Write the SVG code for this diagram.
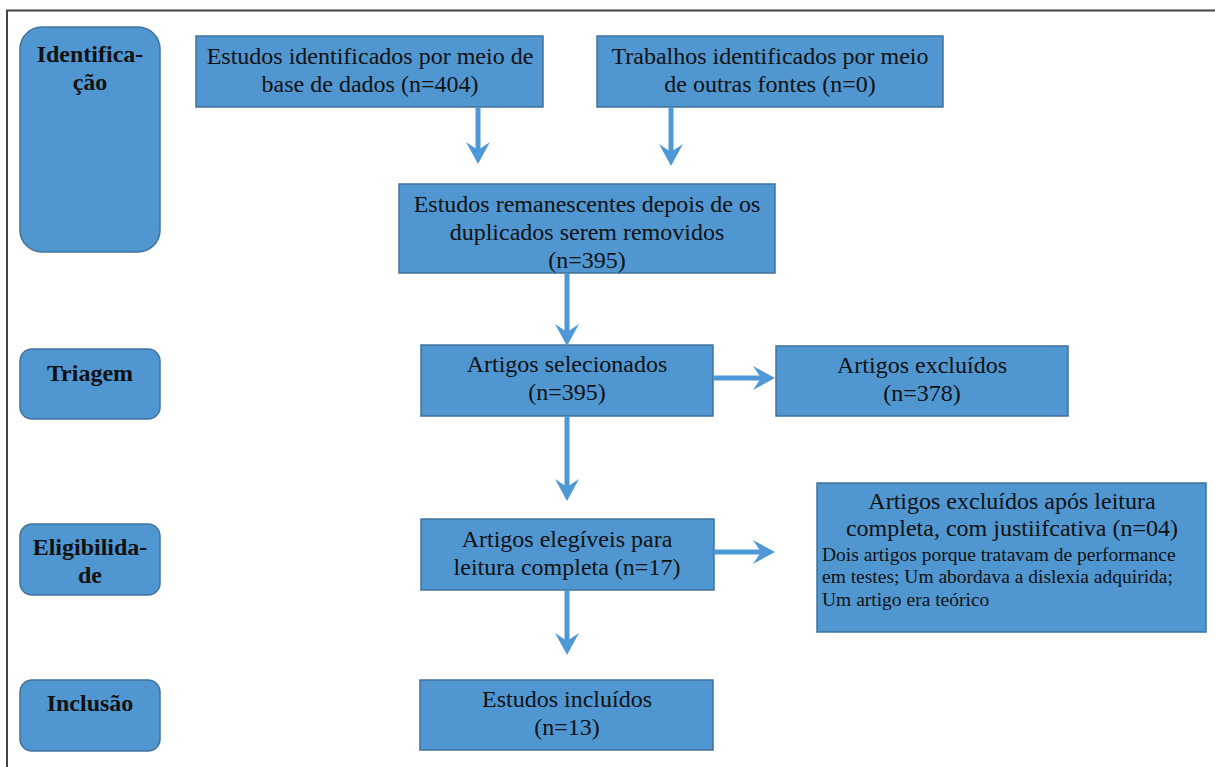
<svg xmlns="http://www.w3.org/2000/svg" width="1215" height="767" viewBox="0 0 1215 767">
<style>
.box{fill:#5097d2;stroke:#41719c;stroke-width:1.5}
.lbl{fill:#5097d2;stroke:#41719c;stroke-width:1.5}
.t{font-size:24px;fill:#111;text-anchor:middle}
.b{font-size:24px;font-weight:bold;fill:#111;text-anchor:middle}
.s{font-size:19.5px;fill:#111}
.c{stroke:#4f98d8;stroke-width:5;fill:none}
.h{fill:#4f98d8}
</style>
<defs>
<path id="ad" d="M0 0 L-12 -22 L0 -14 L12 -22 Z"/>
</defs>
<rect width="1215" height="767" fill="#fff"/>
<path d="M7 767 V10.5 H1215" fill="none" stroke="#444" stroke-width="2"/>
<g font-family="Liberation Serif, Times New Roman, serif">
<g id="lbl-identificacao"><rect class="lbl" x="20" y="27" width="140" height="225" rx="22"/><text class="b" x="90" y="62">Identifica-</text><text class="b" x="90" y="90">ção</text></g>
<g id="lbl-triagem"><rect class="lbl" x="20" y="349" width="140" height="70" rx="12"/><text class="b" x="90" y="381">Triagem</text></g>
<g id="lbl-eleg"><rect class="lbl" x="20" y="524" width="140" height="71" rx="12"/><text class="b" x="90" y="555">Eligibilida-</text><text class="b" x="90" y="583">de</text></g>
<g id="lbl-inclusao"><rect class="lbl" x="20" y="680" width="140" height="71" rx="12"/><text class="b" x="90" y="711">Inclusão</text></g>
<g id="n1"><rect class="box" x="196" y="36" width="347" height="71"/><text class="t" x="370" y="64">Estudos identificados por meio de</text><text class="t" x="370" y="92">base de dados (n=404)</text></g>
<g id="n2"><rect class="box" x="597" y="36" width="346" height="71"/><text class="t" x="770" y="64">Trabalhos identificados por meio</text><text class="t" x="770" y="92">de outras fontes (n=0)</text></g>
<g id="n3"><rect class="box" x="399" y="184" width="376" height="89"/><text class="t" x="587" y="212">Estudos remanescentes depois de os</text><text class="t" x="587" y="240">duplicados serem removidos</text><text class="t" x="587" y="268">(n=395)</text></g>
<g id="n4"><rect class="box" x="421" y="345" width="292" height="71"/><text class="t" x="567" y="372">Artigos selecionados</text><text class="t" x="567" y="400">(n=395)</text></g>
<g id="n5"><rect class="box" x="776" y="346" width="292" height="70"/><text class="t" x="922" y="373">Artigos excluídos</text><text class="t" x="922" y="401">(n=378)</text></g>
<g id="n6"><rect class="box" x="421" y="519" width="293" height="71"/><text class="t" x="567" y="547">Artigos elegíveis para</text><text class="t" x="567" y="575">leitura completa (n=17)</text></g>
<g id="n7"><rect class="box" x="817" y="483" width="389" height="149"/><text class="t" x="1012" y="509">Artigos excluídos após leitura</text><text class="t" x="1012" y="536">completa, com justiifcativa (n=04)</text><text class="s" x="822" y="561">Dois artigos porque tratavam de performance</text><text class="s" x="822" y="583">em testes; Um abordava a dislexia adquirida;</text><text class="s" x="822" y="606">Um artigo era teórico</text></g>
<g id="n8"><rect class="box" x="420" y="680" width="293" height="70"/><text class="t" x="567" y="707">Estudos incluídos</text><text class="t" x="567" y="735">(n=13)</text></g>
</g>
<g id="connectors">
<path class="c" d="M478 107 V152"/><use href="#ad" class="h" transform="translate(478 164)"/>
<path class="c" d="M671 107 V154"/><use href="#ad" class="h" transform="translate(671 166)"/>
<path class="c" d="M567 273 V334"/><use href="#ad" class="h" transform="translate(567 346)"/>
<path class="c" d="M713 378 H762"/><use href="#ad" class="h" transform="translate(775 378) rotate(-90)"/>
<path class="c" d="M567 416 V489"/><use href="#ad" class="h" transform="translate(567 501)"/>
<path class="c" d="M714 552 H762"/><use href="#ad" class="h" transform="translate(775 552) rotate(-90)"/>
<path class="c" d="M567 590 V643"/><use href="#ad" class="h" transform="translate(567 655)"/>
</g>
</svg>
